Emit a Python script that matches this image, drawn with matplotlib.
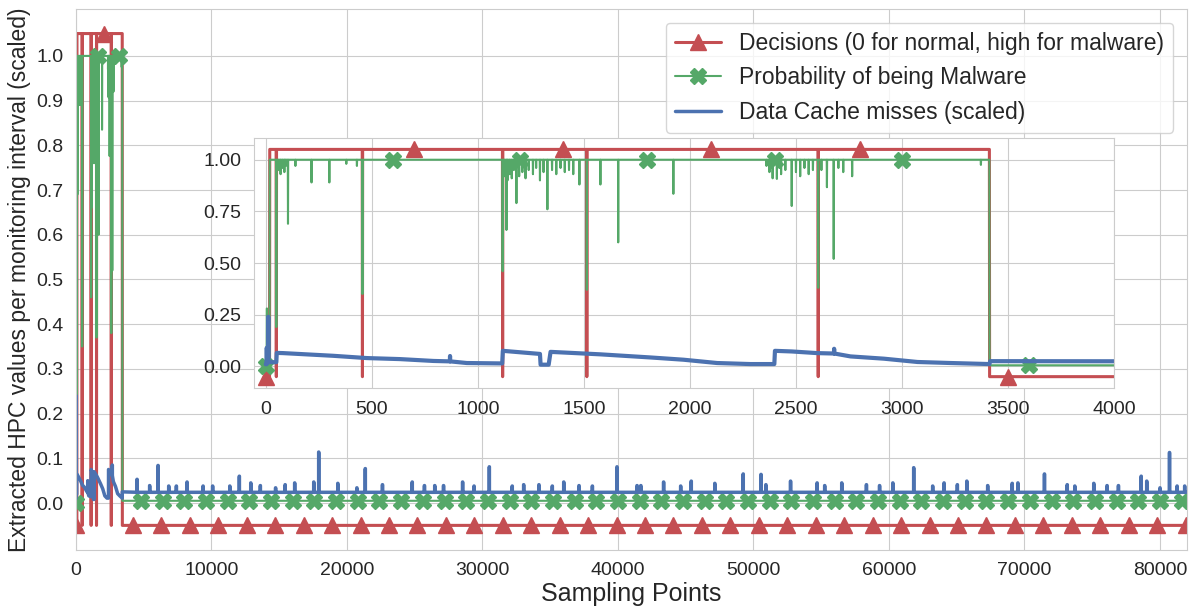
import numpy as np
import matplotlib
matplotlib.use('Agg')
import matplotlib.pyplot as plt
import seaborn as sns
from matplotlib.ticker import FormatStrFormatter

sns.set_style('whitegrid')
plt.rcParams['font.family'] = ['Liberation Sans', 'DejaVu Sans']

RED, GREEN, BLUE = '#C44E52', '#55A868', '#4C72B0'
N = 82000

# decision of the detector, stored as runs: (start sample, level)
dec_start = [0, 19, 50, 51, 456, 457, 1117, 1118, 1514, 1515, 2605, 2606, 3413]
dec_level = [-0.05, 1.05, -0.05, 1.05, -0.05, 1.05, -0.05, 1.05, -0.05, 1.05, -0.05, 1.05, -0.05]

# malware probability: runs plus single-sample dips
prob_start = [0, 5, 7, 19, 3413]
prob_level = [0.0, 0.28, 0.02, 1.0, 0.005]
prob_dip_x = [50, 62, 70, 78, 88, 95, 105, 140, 216, 300, 380, 430, 456,
              1117, 1125, 1135, 1140, 1150, 1160, 1170, 1182, 1195, 1210, 1225, 1240,
              1260, 1275, 1293, 1310, 1328, 1350, 1370, 1390, 1410, 1430, 1450, 1479,
              1514, 1578, 1662, 1922,
              2361, 2375, 2390, 2410, 2430, 2450, 2480, 2500, 2520, 2540, 2560, 2580,
              2605, 2620, 2646, 2678, 2700, 2723, 2765, 3372]
prob_dip_y = [0.19, 0.95, 0.93, 0.96, 0.94, 0.97, 0.69, 0.97, 0.89, 0.89, 0.98, 0.97, 0.35,
              0.46, 0.92, 0.66, 0.90, 0.93, 0.91, 0.95, 0.79, 0.92, 0.94, 0.91, 0.95,
              0.93, 0.96, 0.90, 0.94, 0.76, 0.95, 0.93, 0.96, 0.94, 0.95, 0.93, 0.88,
              0.37, 0.88, 0.60, 0.835,
              0.97, 0.94, 0.91, 0.907, 0.93, 0.95, 0.776, 0.94, 0.92, 0.96, 0.93, 0.95,
              0.38, 0.95, 0.867, 0.52, 0.96, 0.94, 0.92, 0.975]

# data cache misses during the first malware phases
cache_head_x = [0, 4, 5, 6, 11, 12, 13, 50, 52, 82, 318, 476, 633, 791, 868, 869, 870,
                948, 1115, 1118, 1293, 1296, 1334, 1343, 1578, 1813, 1970, 2128, 2285,
                2398, 2401, 2480, 2600, 2679, 2680, 2681, 2757, 2915, 3073, 3230, 3412, 3416]
cache_head_y = [0.01, 0.01, 0.09, 0.02, 0.02, 0.24, 0.02, 0.02, 0.065, 0.064, 0.051, 0.040,
                0.035, 0.026, 0.024, 0.05, 0.024, 0.016, 0.014, 0.075, 0.06, 0.008, 0.008,
                0.07, 0.058, 0.043, 0.032, 0.016, 0.011, 0.011, 0.075, 0.072, 0.064,
                0.062, 0.085, 0.062, 0.048, 0.037, 0.021, 0.016, 0.011, 0.025]
cache_base = 0.024
spike_x = [4507, 5437, 6056, 6845, 7408, 8197, 9380, 10085, 11352, 12056, 12901, 13606,
           14732, 15437, 16141, 17549, 17915, 19324, 20732, 21352, 22620, 24817, 25718,
           26479, 27127, 28535, 29380, 30507, 32197, 33042, 34169, 35155, 36000, 37127,
           38113, 39930, 41410, 41690, 43370, 44630, 45410, 47150, 49245, 50560, 50920,
           52740, 54700, 55260, 56520, 58340, 59310, 60290, 61830, 63230, 64070, 65050,
           65750, 67290, 69100, 69520, 71480, 73160, 73720, 75120, 76100, 76940, 78620,
           79030, 80010, 80710, 81270, 81830]
spike_y = [0.053, 0.039, 0.084, 0.038, 0.038, 0.047, 0.038, 0.038, 0.038, 0.060, 0.045,
           0.039, 0.034, 0.041, 0.045, 0.047, 0.114, 0.044, 0.034, 0.077, 0.041, 0.047,
           0.039, 0.039, 0.039, 0.047, 0.038, 0.081, 0.038, 0.041, 0.041, 0.038, 0.047,
           0.039, 0.038, 0.081, 0.039, 0.039, 0.047, 0.038, 0.049, 0.044, 0.065, 0.064,
           0.041, 0.049, 0.045, 0.039, 0.045, 0.041, 0.039, 0.045, 0.079, 0.038, 0.045,
           0.041, 0.049, 0.039, 0.044, 0.045, 0.065, 0.041, 0.038, 0.044, 0.039, 0.039,
           0.060, 0.049, 0.034, 0.113, 0.038, 0.038]


def expand_runs(starts, levels, n):
    lengths = np.diff(starts + [n])
    return np.repeat(levels, lengths)


idx = np.arange(N)
decision = expand_runs(dec_start, dec_level, N)
prob = expand_runs(prob_start, prob_level, N)
prob[prob_dip_x] = prob_dip_y

cache_x = list(cache_head_x)
cache_y = list(cache_head_y)
for sx, sy in zip(spike_x, spike_y):
    cache_x += [sx - 6, sx - 5, sx + 5, sx + 6]
    cache_y += [cache_base, sy, sy, cache_base]
cache_x.append(N - 1)
cache_y.append(cache_base)


def draw(ax, mark_dec, mark_prob, cache_lw):
    ax.plot(idx, decision, color=RED, lw=2.2, marker='^', ms=11, markevery=mark_dec,
            label='Decisions (0 for normal, high for malware)')
    ax.plot(idx, prob, color=GREEN, lw=1.5, marker='X', ms=11, markevery=mark_prob,
            label='Probability of being Malware')
    ax.plot(cache_x, cache_y, color=BLUE, lw=cache_lw, label='Data Cache misses (scaled)')
    ax.tick_params(length=0, pad=9, labelsize=14, colors='.15')


fig = plt.figure(figsize=(11.95, 6.1), dpi=100)
ax = fig.add_axes([0.0636, 0.0984, 0.9297, 0.8869])
draw(ax, 2100, 1600, 2.5)
ax.set_xlim(0, 82000)
ax.set_ylim(-0.105, 1.105)
ax.set_xticks(range(0, 80001, 10000))
ax.set_yticks(np.arange(0, 1.01, 0.1))
ax.yaxis.set_major_formatter(FormatStrFormatter('%.1f'))
ax.set_xlabel('Sampling Points', fontsize=18, color='.15', labelpad=2)
ax.set_ylabel('Extracted HPC values per monitoring interval (scaled)', fontsize=16.5,
              color='.15', labelpad=4)
leg = ax.legend(loc='upper right', fontsize=16.5, frameon=True, borderaxespad=0.6)

inset = fig.add_axes([0.2126, 0.3639, 0.7197, 0.4098])
draw(inset, 700, 600, 3)
inset.set_xlim(-55, 4000)
inset.set_ylim(-0.105, 1.105)
inset.set_xticks(range(0, 4001, 500))
inset.set_yticks([0, 0.25, 0.5, 0.75, 1.0])
inset.yaxis.set_major_formatter(FormatStrFormatter('%.2f'))

fig.savefig('out.png', dpi=100)
